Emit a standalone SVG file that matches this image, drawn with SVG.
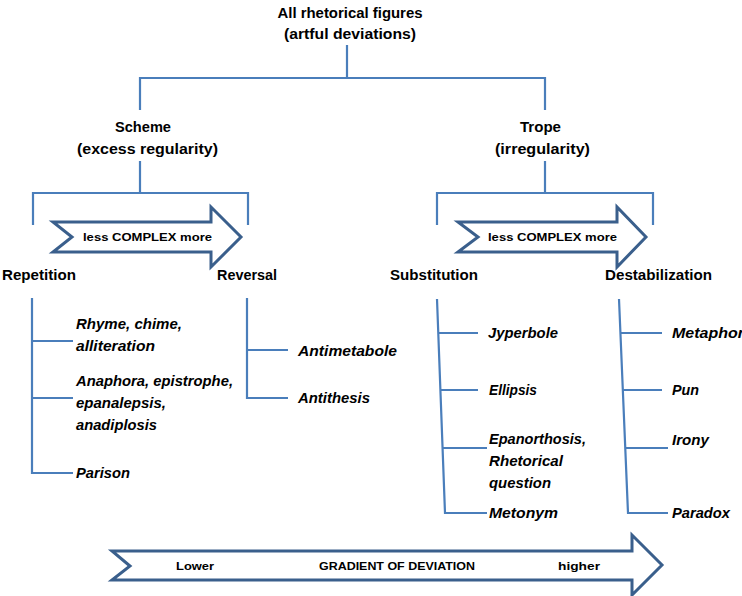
<svg xmlns="http://www.w3.org/2000/svg" width="742" height="596" viewBox="0 0 742 596">
<style>
text{font-family:"Liberation Sans",Arial,sans-serif;font-weight:bold;fill:#000;}
.h{font-size:14px;}
.s{font-size:11.5px;}
.i{font-size:14px;font-style:italic;}
.c{text-anchor:middle;}
.ln{fill:none;stroke:#4a7ebb;stroke-width:2.2;}
.ar{fill:#fff;stroke:#3a5f8c;stroke-width:3;stroke-linejoin:miter;}
</style>
<rect width="742" height="596" fill="#fff"/>
<g id="connectors">
<path class="ln" d="M347,45V78M140,78H545M140,77V110M545,77V110"/>
<path class="ln" d="M140,161V193M33,193H248M33,192V225M248,192V225"/>
<path class="ln" d="M545,161V193M437,193H653M437,192V225M653,192V225"/>
<path class="ln" d="M32,298V473H73M32,341H73M32,398H73"/>
<path class="ln" d="M247,298V398H288M247,350H288"/>
<path class="ln" d="M437,299L445,513H487M438.3,333H478M440.4,390H478M442.6,448H487"/>
<path class="ln" d="M619,299L628,513H668M620.4,333H662M622.8,390H662M625.3,448H668"/>
</g>
<g id="root">
<text class="h c" x="350" y="18" textLength="145" lengthAdjust="spacingAndGlyphs">All rhetorical figures</text>
<text class="h c" x="350" y="39" textLength="132" lengthAdjust="spacingAndGlyphs">(artful deviations)</text>
</g>
<g id="scheme">
<text class="h c" x="143" y="132" textLength="56" lengthAdjust="spacingAndGlyphs">Scheme</text>
<text class="h c" x="147.5" y="154" textLength="141" lengthAdjust="spacingAndGlyphs">(excess regularity)</text>
</g>
<g id="trope">
<text class="h c" x="540.5" y="132" textLength="41" lengthAdjust="spacingAndGlyphs">Trope</text>
<text class="h c" x="542.5" y="154" textLength="95" lengthAdjust="spacingAndGlyphs">(irregularity)</text>
</g>
<g id="arrow-scheme">
<polygon class="ar" points="53,222 211,222 211,207 241,237 211,267 211,252 53,252 72,237"/>
<text class="s" x="83" y="241" textLength="129" lengthAdjust="spacingAndGlyphs">less  COMPLEX  more</text>
</g>
<g id="arrow-trope">
<polygon class="ar" points="458,222 617,222 617,207 646,237 617,267 617,252 458,252 478,237"/>
<text class="s" x="488" y="241" textLength="129" lengthAdjust="spacingAndGlyphs">less  COMPLEX  more</text>
</g>
<g id="repetition">
<text class="h" x="2" y="280" textLength="74" lengthAdjust="spacingAndGlyphs">Repetition</text>
</g>
<g id="reversal">
<text class="h" x="217" y="280" textLength="60" lengthAdjust="spacingAndGlyphs">Reversal</text>
</g>
<g id="substitution">
<text class="h" x="390" y="280" textLength="88" lengthAdjust="spacingAndGlyphs">Substitution</text>
</g>
<g id="destabilization">
<text class="h" x="605" y="280" textLength="107" lengthAdjust="spacingAndGlyphs">Destabilization</text>
</g>
<g id="rhyme">
<text class="i" x="76" y="329" textLength="106" lengthAdjust="spacingAndGlyphs">Rhyme, chime,</text>
<text class="i" x="76" y="351" textLength="79" lengthAdjust="spacingAndGlyphs">alliteration</text>
</g>
<g id="anaphora">
<text class="i" x="76" y="386" textLength="157" lengthAdjust="spacingAndGlyphs">Anaphora, epistrophe,</text>
<text class="i" x="76" y="408" textLength="90" lengthAdjust="spacingAndGlyphs">epanalepsis,</text>
<text class="i" x="76" y="430" textLength="81" lengthAdjust="spacingAndGlyphs">anadiplosis</text>
</g>
<g id="parison">
<text class="i" x="76" y="478" textLength="54" lengthAdjust="spacingAndGlyphs">Parison</text>
</g>
<g id="antimetabole">
<text class="i" x="298" y="356" textLength="99" lengthAdjust="spacingAndGlyphs">Antimetabole</text>
</g>
<g id="antithesis">
<text class="i" x="298" y="403" textLength="72" lengthAdjust="spacingAndGlyphs">Antithesis</text>
</g>
<g id="jyperbole">
<text class="i" x="488" y="338" textLength="70" lengthAdjust="spacingAndGlyphs">Jyperbole</text>
</g>
<g id="ellipsis">
<text class="i" x="489" y="395" textLength="48" lengthAdjust="spacingAndGlyphs">Ellipsis</text>
</g>
<g id="epanorthosis">
<text class="i" x="489" y="444" textLength="97" lengthAdjust="spacingAndGlyphs">Epanorthosis,</text>
<text class="i" x="489" y="466" textLength="74" lengthAdjust="spacingAndGlyphs">Rhetorical</text>
<text class="i" x="489" y="488" textLength="62" lengthAdjust="spacingAndGlyphs">question</text>
</g>
<g id="metonym">
<text class="i" x="489" y="518" textLength="69" lengthAdjust="spacingAndGlyphs">Metonym</text>
</g>
<g id="metaphor">
<text class="i" x="672" y="338" textLength="72" lengthAdjust="spacingAndGlyphs">Metaphor</text>
</g>
<g id="pun">
<text class="i" x="672" y="395" textLength="27" lengthAdjust="spacingAndGlyphs">Pun</text>
</g>
<g id="irony">
<text class="i" x="672" y="445" textLength="37" lengthAdjust="spacingAndGlyphs">Irony</text>
</g>
<g id="paradox">
<text class="i" x="672" y="518" textLength="58" lengthAdjust="spacingAndGlyphs">Paradox</text>
</g>
<g id="gradient">
<polygon class="ar" points="112,551 632,551 632,535 662,565 632,595 632,580 112,580 130,566"/>
<text class="s" x="176" y="570" textLength="38" lengthAdjust="spacingAndGlyphs">Lower</text>
<text class="s" x="319" y="570" textLength="156" lengthAdjust="spacingAndGlyphs">GRADIENT OF DEVIATION</text>
<text class="s" x="558" y="570" textLength="42" lengthAdjust="spacingAndGlyphs">higher</text>
</g>
</svg>
